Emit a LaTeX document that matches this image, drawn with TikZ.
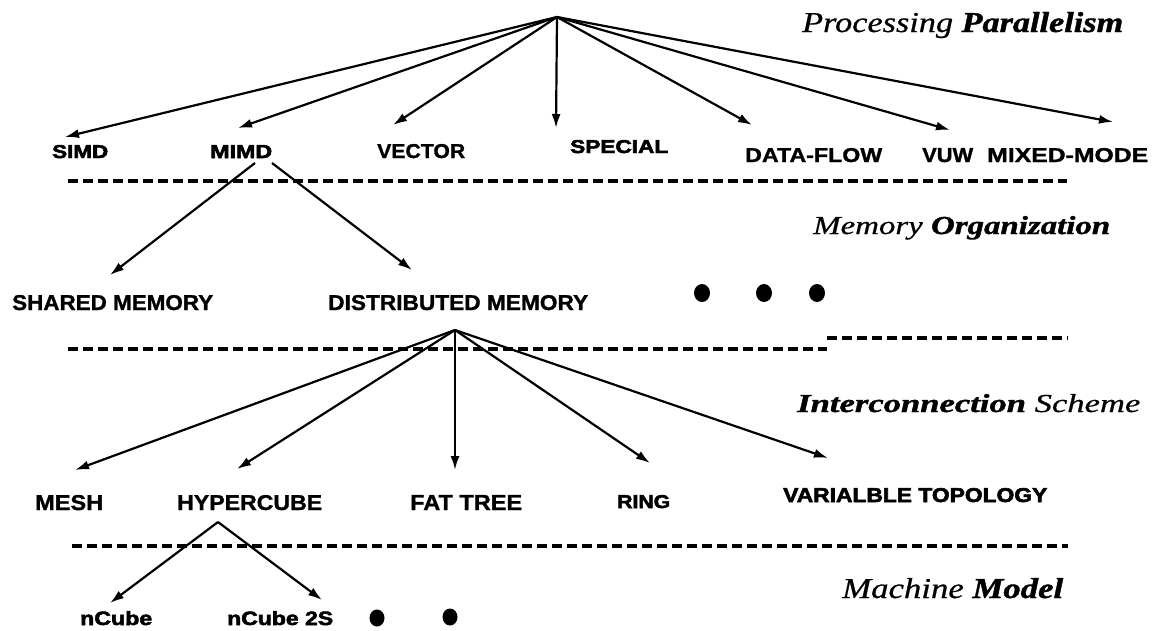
\documentclass[tikz,border=0pt]{standalone}
\usepackage{graphicx}
\usepackage{fontspec}
\setmainfont{Liberation Serif}[ItalicFeatures={FakeBold=0.6}, BoldItalicFeatures={FakeBold=1.2}]
\newfontfamily\labfont{Liberation Sans}[BoldFeatures={FakeBold=1.2}]
\newfontfamily\heavyfont{Liberation Sans}[BoldFeatures={FakeBold=2.6}]
\usetikzlibrary{arrows.meta}
\newcommand\fitbox[3]{\resizebox{#1pt}{#2pt}{#3}}
\begin{document}
\begin{tikzpicture}[x=1pt,y=-1pt,
  lab/.style={anchor=base west, inner sep=0pt, font=\labfont\bfseries},
  hlab/.style={anchor=base west, inner sep=0pt, font=\heavyfont\bfseries},
  ttl/.style={anchor=base west, inner sep=0pt, font=\rmfamily},
  arr/.style={line width=2.2pt, -{Latex[length=14pt,width=9pt]}},
  sep/.style={line width=3.2pt, dash pattern=on 10pt off 5pt},
  dot/.style={fill=black, draw=none}]
\useasboundingbox (0,0) rectangle (1155,630);
% ---- titles
\node[ttl] (t1) at (802,32) {\fitbox{321}{20}{\itshape Processing \bfseries Parallelism}};
\node[ttl] (t2) at (813,234) {\fitbox{297}{18}{\itshape Memory \bfseries Organization}};
\node[ttl] (t3) at (797,412) {\fitbox{343}{18}{\itshape\bfseries Interconnection \mdseries Scheme}};
\node[ttl] (t4) at (842,598) {\fitbox{221}{20}{\itshape Machine \bfseries Model}};
% ---- level 1
\node[hlab] (simd) at (52,158) {\fitbox{56}{13}{SIMD}};
\node[hlab] (mimd) at (210,158) {\fitbox{62}{13}{MIMD}};
\node[lab] (vector) at (377,158) {\fitbox{88}{14}{VECTOR}};
\node[hlab] (special) at (570,153) {\fitbox{98}{13}{SPECIAL}};
\node[lab] (dataflow) at (745,162) {\fitbox{137}{14}{DATA-FLOW}};
\node[lab] (vuw) at (922,162) {\fitbox{51}{14}{VUW}};
\node[lab] (mixed) at (987,162) {\fitbox{161}{14}{MIXED-MODE}};
% ---- level 2
\node[lab] (shared) at (12,310) {\fitbox{201}{15}{SHARED MEMORY}};
\node[lab] (dist) at (328,310) {\fitbox{260}{15}{DISTRIBUTED MEMORY}};
% ---- level 3
\node[lab] (mesh) at (35,510) {\fitbox{68}{15}{MESH}};
\node[lab] (hyper) at (177,510) {\fitbox{145}{15}{HYPERCUBE}};
\node[lab] (fat) at (410,510) {\fitbox{112}{15}{FAT TREE}};
\node[hlab] (ring) at (617,508) {\fitbox{53}{13}{RING}};
\node[hlab] (var) at (783,502) {\fitbox{264}{14}{VARIALBLE TOPOLOGY}};
% ---- level 4
\node[hlab] (ncube) at (80,625) {\fitbox{72}{14}{nCube}};
\node[hlab] (ncube2) at (227,625) {\fitbox{106}{14}{nCube 2S}};
% ---- dots
\fill[dot] (702,293) ellipse [x radius=8, y radius=9];
\fill[dot] (764,293) ellipse [x radius=8, y radius=9];
\fill[dot] (817,293) ellipse [x radius=8, y radius=9];
\fill[dot] (377,618) ellipse [x radius=7.5, y radius=8.5];
\fill[dot] (450,617) ellipse [x radius=7.5, y radius=8.5];
% ---- connector coordinates
\coordinate (r1) at (557,17);
\coordinate (a1) at (65,137);
\coordinate (a2) at (238,128);
\coordinate (a3) at (393,125);
\coordinate (a4) at (556,128);
\coordinate (a5) at (752,125);
\coordinate (a6) at (950,130);
\coordinate (a7) at (1113,122);
\coordinate (m1) at (255,163);
\coordinate (m2) at (272,163);
\coordinate (b1) at (110,275);
\coordinate (b2) at (412,270);
\coordinate (r3) at (455,330);
\coordinate (c1) at (75,470);
\coordinate (c2) at (237,469);
\coordinate (c3) at (455,470);
\coordinate (c4) at (650,463);
\coordinate (c5) at (828,458);
\coordinate (r4) at (218,522);
\coordinate (e1) at (110,603);
\coordinate (e2) at (322,600);
% ---- arrows
\foreach \t in {a1,a2,a3,a4,a5,a6,a7} \draw[arr] (r1) -- (\t);
\draw[arr] (m1) -- (b1);
\draw[arr] (m2) -- (b2);
\foreach \t in {c1,c2,c3,c4,c5} \draw[arr] (r3) -- (\t);
\draw[arr] (r4) -- (e1);
\draw[arr] (r4) -- (e2);
% ---- separators
\coordinate (d1a) at (68,181);  \coordinate (d1b) at (1067,181);
\coordinate (d2a) at (68,349);  \coordinate (d2b) at (827,349);
\coordinate (d2c) at (827,338); \coordinate (d2d) at (1068,338);
\coordinate (d3a) at (72,546);  \coordinate (d3b) at (1068,546);
\draw[sep] (d1a) -- (d1b);
\draw[sep] (d2a) -- (d2b);
\draw[sep] (d2c) -- (d2d);
\draw[sep] (d3a) -- (d3b);
\end{tikzpicture}
\end{document}
